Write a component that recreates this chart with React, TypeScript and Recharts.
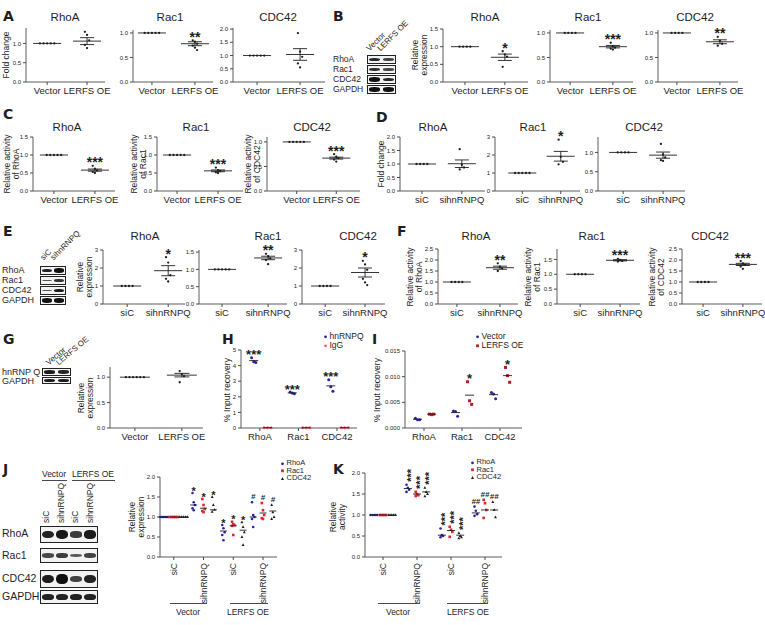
import React from 'react';
import { ScatterChart, Scatter, XAxis, YAxis, ErrorBar } from 'recharts';

const FONT = '"Liberation Sans", Arial, Helvetica, sans-serif';
const INK = '#1e1e1e';
const AX = '#4a4a4a';
const BLUE = '#2424a8';
const RED = '#e3262b';
const DKRED = '#b01d22';
const PINK = '#ea5b5e';

// ---------- categories ----------
const vecCats = ['Vector', 'LERFS OE'];
const siCats = ['siC', 'sihnRNPQ'];
const geneCats = ['RhoA', 'Rac1', 'CDC42'];
const jkCats = ['siC', 'sihnRNPQ', 'siC', 'sihnRNPQ'];

const ctrl4 = [1, 1, 1, 1];
const ctrl5 = [1, 1, 1, 1, 1];

// ---------- A: fold change, LERFS OE ----------
const aRhoAPts = [ctrl5, [1.3, 1.22, 1.08, 0.96, 0.88]];
const aRhoAMean = [1, 1.06];
const aRhoASem = [0, 0.09];
const aRac1Pts = [ctrl5, [0.85, 0.82, 0.78, 0.74, 0.7, 0.65]];
const aRac1Mean = [1, 0.78];
const aRac1Sem = [0, 0.04];
const aRac1Marks = ['', '**'];
const aCdc42Pts = [ctrl5, [1.85, 1.15, 0.95, 0.7, 0.55]];
const aCdc42Mean = [1, 1.04];
const aCdc42Sem = [0, 0.22];

// ---------- B: relative expression, LERFS OE ----------
const bRhoAPts = [ctrl4, [0.87, 0.78, 0.72, 0.43]];
const bRhoAMean = [1, 0.7];
const bRhoASem = [0, 0.09];
const bRhoAMarks = ['', '*'];
const bRac1Pts = [ctrl4, [0.8, 0.73, 0.7, 0.68, 0.66]];
const bRac1Mean = [1, 0.72];
const bRac1Sem = [0, 0.025];
const bRac1Marks = ['', '***'];
const bCdc42Pts = [ctrl4, [0.92, 0.84, 0.78, 0.74]];
const bCdc42Mean = [1, 0.82];
const bCdc42Sem = [0, 0.04];
const bCdc42Marks = ['', '**'];

// ---------- C: relative activity, LERFS OE ----------
const cRhoAPts = [ctrl5, [0.7, 0.62, 0.57, 0.53, 0.5]];
const cRhoAMean = [1, 0.58];
const cRhoASem = [0, 0.03];
const cRac1Pts = [ctrl5, [0.65, 0.58, 0.55, 0.52, 0.5]];
const cRac1Mean = [1, 0.56];
const cRac1Sem = [0, 0.025];
const cCdc42Pts = [ctrl5, [0.75, 0.7, 0.67, 0.64, 0.6]];
const cCdc42Mean = [1, 0.67];
const cCdc42Sem = [0, 0.02];
const cMarks = ['', '***'];

// ---------- D: fold change, sihnRNPQ ----------
const dRhoAPts = [ctrl4, [1.55, 0.97, 0.87, 0.8]];
const dRhoAMean = [1, 1.01];
const dRhoASem = [0, 0.14];
const dRac1Pts = [ctrl5, [2.85, 1.9, 1.62, 1.48]];
const dRac1Mean = [1, 1.93];
const dRac1Sem = [0, 0.27];
const dRac1Marks = ['', '*'];
const dCdc42Pts = [ctrl4, [1.22, 0.95, 0.87, 0.8, 0.78]];
const dCdc42Mean = [1, 0.93];
const dCdc42Sem = [0, 0.08];

// ---------- E: relative expression, sihnRNPQ ----------
const eRhoAPts = [ctrl4, [2.6, 2.3, 1.6, 1.4, 1.25]];
const eRhoAMean = [1, 1.85];
const eRhoASem = [0, 0.28];
const eRhoAMarks = ['', '*'];
const eRac1Pts = [ctrl5, [1.45, 1.38, 1.32, 1.27, 1.15]];
const eRac1Mean = [1, 1.33];
const eRac1Sem = [0, 0.05];
const eRac1Marks = ['', '**'];
const eCdc42Pts = [ctrl4, [2.4, 2.2, 1.9, 1.4, 1.2, 1.05]];
const eCdc42Mean = [1, 1.75];
const eCdc42Sem = [0, 0.25];
const eCdc42Marks = ['', '*'];

// ---------- F: relative activity, sihnRNPQ ----------
const fRhoAPts = [ctrl4, [1.85, 1.7, 1.62, 1.5]];
const fRhoAMean = [1, 1.65];
const fRhoASem = [0, 0.07];
const fRhoAMarks = ['', '**'];
const fRac1Pts = [ctrl4, [1.52, 1.48, 1.45, 1.43]];
const fRac1Mean = [1, 1.47];
const fRac1Sem = [0, 0.02];
const fRac1Marks = ['', '***'];
const fCdc42Pts = [ctrl4, [1.95, 1.85, 1.78, 1.7, 1.6]];
const fCdc42Mean = [1, 1.8];
const fCdc42Sem = [0, 0.05];
const fCdc42Marks = ['', '***'];

// ---------- G: hnRNP Q expression ----------
const gPts = [[1, 1, 1, 1, 1, 1], [1.12, 1.06, 1.02, 0.9]];
const gMean = [1, 1.04];
const gSem = [0, 0.035];

// ---------- H: ChIP hnRNPQ vs IgG ----------
const hHnrnpq = [[4.5, 4.25, 4.2], [2.3, 2.25, 2.2], [3.1, 2.65, 2.35]];
const hHnrnpqMean = [4.32, 2.25, 2.7];
const hIgg = [[0.02, 0.02, 0.02], [0.02, 0.02, 0.02], [0.02, 0.02, 0.02]];
const hIggMean = [0.02, 0.02, 0.02];
const hMarks = ['***', '***', '***'];

// ---------- I: ChIP, Vector vs LERFS OE ----------
const iVector = [[0.0019, 0.0016, 0.0016], [0.0033, 0.0032, 0.0023], [0.0069, 0.0066, 0.0057]];
const iVectorMean = [0.0017, 0.003, 0.0065];
const iLerfs = [[0.0027, 0.0026, 0.0027], [0.009, 0.0053, 0.0046], [0.0118, 0.0102, 0.0089]];
const iLerfsMean = [0.0027, 0.0064, 0.0102];
const iMarks = ['', '*', '*'];

// ---------- J: relative expression ----------
const jRhoA = [ctrl5, [1.6, 1.37, 1.3, 1.22, 1.17], [0.8, 0.72, 0.62, 0.55, 0.42], [1.37, 1.05, 1.0, 0.95, 0.75]];
const jRhoAMean = [1, 1.3, 0.65, 1.0];
const jRac1 = [ctrl5, [1.45, 1.3, 1.2, 1.15, 1.12], [0.88, 0.82, 0.8, 0.78, 0.55], [1.35, 1.17, 1.05, 0.97, 0.95]];
const jRac1Mean = [1, 1.22, 0.78, 1.1];
const jCdc42 = [ctrl5, [1.5, 1.3, 1.18, 1.13], [0.87, 0.75, 0.62, 0.5, 0.3], [1.3, 1.12, 1.0, 0.95]];
const jCdc42Mean = [1, 1.18, 0.67, 1.15];
const jMarks = ['', '*', '*', '#'];

// ---------- K: relative activity ----------
const kRhoA = [ctrl4, [1.72, 1.65, 1.6, 1.55], [0.68, 0.52, 0.5, 0.47], [1.2, 1.1, 1.02, 0.98]];
const kRhoAMean = [1, 1.63, 0.52, 1.05];
const kRac1 = [ctrl4, [1.55, 1.5, 1.47, 1.45], [0.72, 0.65, 0.6, 0.48], [1.36, 1.28, 1.12, 0.93]];
const kRac1Mean = [1, 1.5, 0.63, 1.12];
const kCdc42 = [ctrl4, [1.65, 1.55, 1.5, 1.45], [0.57, 0.5, 0.47, 0.45], [1.31, 1.12, 0.95]];
const kCdc42Mean = [1, 1.55, 0.52, 1.12];
const kMarks = ['', '***', '***', '##'];

// ---------- blots (band intensity per lane) ----------
const blot4Rows = ['RhoA', 'Rac1', 'CDC42', 'GAPDH'];
const bBands = [[0.8, 0.6], [0.75, 0.55], [1, 0.8], [1, 1]];
const eBands = [[0.85, 1], [0.45, 0.7], [0.45, 0.9], [1, 1]];
const gRows = ['hnRNP Q', 'GAPDH'];
const gBands = [[0.9, 0.85], [0.9, 0.9]];
const jBands = [[0.85, 0.95, 0.65, 0.9], [0.55, 0.65, 0.4, 0.6], [0.9, 1, 0.6, 0.85], [0.85, 0.85, 0.85, 0.85]];

// ---------- plot machinery ----------
type Shape = 'circle' | 'square' | 'triangle';
type Series = {
  name?: string;
  color: string;
  shape: Shape;
  pts: number[][];
  means: number[];
  sems?: number[];
  marks?: string[];
  off?: number;
};

type PlotProps = {
  x0: number; x1: number; yTop: number; yBot: number;
  xDom: [number, number]; yDom: [number, number]; yTicks: number[]; dec: number;
  cats: string[]; series: Series[];
  meanW?: number; capW?: number; dot?: number; gap?: number;
  rot?: boolean; markSize?: number; stack?: boolean; yw?: number; catSize?: number;
};

const MT = 26;

const drawMarker = (shape: Shape, color: string, r: number) => (p: any) => {
  const { cx, cy } = p;
  if (cx == null || cy == null) return <g />;
  if (shape === 'square') return <rect x={cx - r} y={cy - r} width={2 * r} height={2 * r} fill={color} />;
  if (shape === 'triangle')
    return <polygon points={`${cx},${cy - r * 1.3} ${cx - r * 1.1},${cy + r * 0.8} ${cx + r * 1.1},${cy + r * 0.8}`} fill={color} />;
  return <circle cx={cx} cy={cy} r={r} fill={color} />;
};

function DotPlot(p: PlotProps) {
  const {
    x0, x1, yTop, yBot, xDom, yDom, yTicks, dec, cats, series,
    meanW = 28, capW = 14, dot = 1.15, gap = 3.6, rot = false, markSize = 14, stack = false, yw = 22, catSize = 9.5,
  } = p;
  const xh = rot ? 50 : 22;
  const pw = x1 - x0;
  const unit = pw / (xDom[1] - xDom[0]);
  const width = yw + pw + 6;
  const height = MT + (yBot - yTop) + xh;

  const pointsOf = (s: Series) => {
    const out: { x: number; y: number }[] = [];
    s.pts.forEach((vals, gi) => {
      const flat = vals.length > 1 && vals.every((v) => v === vals[0]);
      vals.forEach((v, i) => {
        const dx = flat ? (i - (vals.length - 1) / 2) * gap : ((i % 3) - 1) * gap * 0.6;
        out.push({ x: gi + (s.off || 0) + dx / unit, y: v });
      });
    });
    return out;
  };
  const meansOf = (s: Series) => s.means.map((m, gi) => ({ x: gi + (s.off || 0), y: m, e: s.sems ? s.sems[gi] : 0 }));
  const marksOf = (s: Series) =>
    (s.marks || [])
      .map((m, gi) => ({
        x: gi + (s.off || 0),
        y: Math.max(...s.pts[gi], s.means[gi] + (s.sems ? s.sems[gi] : 0)),
        m,
      }))
      .filter((d) => d.m);

  const meanLine = (q: any) =>
    q.cx == null ? <g /> : <line x1={q.cx - meanW / 2} x2={q.cx + meanW / 2} y1={q.cy} y2={q.cy} stroke={INK} strokeWidth={0.9} />;

  const markShape = (q: any) => {
    const { cx, cy, payload } = q;
    if (cx == null) return <g />;
    const m: string = payload.m;
    const isStar = /^\*+$/.test(m);
    if (stack && isStar) {
      // stars written as a vertical column, as in the original
      const by = cy - 3;
      return (
        <text
          x={cx}
          y={by}
          dy="0.3em"
          transform={`rotate(-90 ${cx} ${by})`}
          textAnchor="start"
          dominantBaseline="central"
          fontSize={markSize}
          fontWeight="bold"
          fill={INK}
          fontFamily={FONT}
        >
          {m}
        </text>
      );
    }
    return (
      <text
        x={cx}
        y={isStar ? cy + 1.5 : cy - 3}
        textAnchor="middle"
        fontSize={isStar ? markSize : markSize * 0.72}
        fontWeight="bold"
        fontStyle={isStar ? 'normal' : 'italic'}
        fill={INK}
        fontFamily={FONT}
      >
        {m}
      </text>
    );
  };

  const rotTick = (t: any) => (
    <text
      x={t.x}
      y={t.y + 1}
      transform={`rotate(-90 ${t.x} ${t.y + 1})`}
      textAnchor="end"
      dominantBaseline="central"
      fontSize={8.5}
      fill={INK}
      fontFamily={FONT}
    >
      {cats[t.payload.value]}
    </text>
  );

  return (
    <div style={{ position: 'absolute', left: x0 - yw, top: yTop - MT }}>
      <ScatterChart width={width} height={height} margin={{ top: MT, right: 6, bottom: 0, left: 0 }}>
        <XAxis
          type="number"
          dataKey="x"
          domain={xDom}
          ticks={cats.map((_, i) => i)}
          interval={0}
          height={xh}
          tickSize={3}
          stroke={AX}
          tickLine={{ stroke: AX }}
          axisLine={{ stroke: AX, strokeWidth: 0.9 }}
          tick={rot ? rotTick : { fontSize: catSize, fill: INK, fontFamily: FONT }}
          tickFormatter={(v: number) => cats[v] ?? ''}
        />
        <YAxis
          type="number"
          dataKey="y"
          domain={yDom}
          ticks={yTicks}
          interval={0}
          width={yw}
          tickSize={3}
          stroke={AX}
          tickLine={{ stroke: AX }}
          axisLine={{ stroke: AX, strokeWidth: 0.9 }}
          tick={{ fontSize: 6, fill: INK, fontFamily: FONT }}
          tickFormatter={(v: number) => v.toFixed(dec)}
        />
        {series.map((s, si) => [
          <Scatter key={'p' + si} data={pointsOf(s)} shape={drawMarker(s.shape, s.color, dot)} isAnimationActive={false} />,
          <Scatter key={'m' + si} data={meansOf(s)} shape={meanLine} isAnimationActive={false}>
            {s.sems ? <ErrorBar dataKey="e" direction="y" width={capW / 2} stroke={INK} strokeWidth={0.9} /> : null}
          </Scatter>,
          <Scatter key={'k' + si} data={marksOf(s)} shape={markShape} isAnimationActive={false} />,
        ])}
      </ScatterChart>
    </div>
  );
}

const one = (pts: number[][], means: number[], sems: number[], marks?: string[]): Series[] => [
  { color: INK, shape: 'circle', pts, means, sems, marks, off: 0 },
];

// ---------- text helpers ----------
const Txt = ({ x, y, s, children, rot = 0, bold = false }: { x: number; y: number; s: number; children: React.ReactNode; rot?: number; bold?: boolean }) => (
  <div
    style={{
      position: 'absolute',
      left: x,
      top: y,
      transform: `translate(-50%, -50%) rotate(${rot}deg)`,
      whiteSpace: 'pre',
      fontSize: s,
      lineHeight: 1.02,
      textAlign: 'center',
      fontWeight: bold ? 700 : 400,
    }}
  >
    {children}
  </div>
);

const Letter = ({ x, y, c }: { x: number; y: number; c: string }) => (
  <div style={{ position: 'absolute', left: x, top: y, fontSize: 14, fontWeight: 900, fontFamily: '"DejaVu Sans", sans-serif', lineHeight: 1 }}>{c}</div>
);

const Slant = ({ x, y, s, children, ang = -45 }: { x: number; y: number; s: number; children: React.ReactNode; ang?: number }) => (
  <div
    style={{
      position: 'absolute',
      left: x,
      top: y - s,
      fontSize: s,
      lineHeight: 1,
      whiteSpace: 'nowrap',
      transform: `rotate(${ang}deg)`,
      transformOrigin: '0 100%',
    }}
  >
    {children}
  </div>
);

function Blot({ x, w, tops, hs, bands }: { x: number; w: number; tops: number[]; hs: number[]; bands: number[][] }) {
  return (
    <>
      {bands.map((row, ri) => {
        const lane = (w - 2) / row.length;
        return (
          <div
            key={ri}
            style={{ position: 'absolute', left: x, top: tops[ri], width: w - 2, height: hs[ri] - 2, border: '1px solid #222', background: '#f2f2f2', overflow: 'hidden' }}
          >
            {row.map((v, li) => {
              const bh = Math.max(1.5, (hs[ri] - 2) * 0.62 * v);
              return (
                <div
                  key={li}
                  style={{
                    position: 'absolute',
                    left: li * lane + lane * 0.1,
                    top: (hs[ri] - 2 - bh) / 2,
                    width: lane * 0.8,
                    height: bh,
                    background: '#111',
                    opacity: 0.45 + 0.55 * v,
                    borderRadius: '45%',
                    filter: 'blur(0.4px)',
                  }}
                />
              );
            })}
          </div>
        );
      })}
    </>
  );
}

function Legend({ x, y, step, s, items }: { x: number; y: number; step: number; s: number; items: { name: string; color: string; shape: Shape }[] }) {
  return (
    <>
      {items.map((it, i) => (
        <div
          key={i}
          style={{ position: 'absolute', left: x, top: y + i * step - s * 0.5, fontSize: s, lineHeight: 1, height: s, whiteSpace: 'nowrap', display: 'flex', alignItems: 'center' }}
        >
          <svg width={5} height={5} style={{ marginRight: 1.5 }}>
            {drawMarker(it.shape, it.color, 1.4)({ cx: 2.5, cy: 2.8 })}
          </svg>
          {it.name}
        </div>
      ))}
    </>
  );
}

const HLine = ({ x1, x2, y }: { x1: number; x2: number; y: number }) => (
  <div style={{ position: 'absolute', left: x1, top: y, width: x2 - x1, height: 0, borderTop: `1px solid ${AX}` }} />
);

// ---------- series for multi-series panels ----------
const hSeries: Series[] = [
  { name: 'hnRNPQ', color: BLUE, shape: 'circle', pts: hHnrnpq, means: hHnrnpqMean, marks: hMarks, off: -0.16 },
  { name: 'IgG', color: PINK, shape: 'circle', pts: hIgg, means: hIggMean, off: 0.2 },
];
const iSeries: Series[] = [
  { name: 'Vector', color: BLUE, shape: 'circle', pts: iVector, means: iVectorMean, off: -0.17 },
  { name: 'LERFS OE', color: DKRED, shape: 'square', pts: iLerfs, means: iLerfsMean, marks: iMarks, off: 0.2 },
];
const jSeries: Series[] = [
  { name: 'RhoA', color: BLUE, shape: 'circle', pts: jRhoA, means: jRhoAMean, marks: jMarks, off: -0.33 },
  { name: 'Rac1', color: RED, shape: 'square', pts: jRac1, means: jRac1Mean, marks: jMarks, off: 0 },
  { name: 'CDC42', color: INK, shape: 'triangle', pts: jCdc42, means: jCdc42Mean, marks: jMarks, off: 0.33 },
];
const kSeries: Series[] = [
  { name: 'RhoA', color: BLUE, shape: 'circle', pts: kRhoA, means: kRhoAMean, marks: kMarks, off: -0.27 },
  { name: 'Rac1', color: RED, shape: 'square', pts: kRac1, means: kRac1Mean, marks: kMarks, off: 0 },
  { name: 'CDC42', color: INK, shape: 'triangle', pts: kCdc42, means: kCdc42Mean, marks: kMarks, off: 0.27 },
];

const t05 = [0, 0.5, 1];
const t15 = [0, 0.5, 1, 1.5];
const t20 = [0, 0.5, 1, 1.5, 2];
const t25 = [0, 0.5, 1, 1.5, 2, 2.5];
const t3 = [0, 1, 2, 3];

export default function App() {
  return (
    <div style={{ position: 'absolute', left: 0, top: 0, width: 765, height: 625, background: '#fff', fontFamily: FONT, color: INK, overflow: 'hidden' }}>
      {/* ---------------- row 1: A, B ---------------- */}
      <Letter x={3} y={9} c="A" />
      <Txt x={6} y={55} s={8.5} rot={-90}>Fold change</Txt>
      <Txt x={65} y={18} s={11.5}>RhoA</Txt>
      <Txt x={170} y={18} s={11.5}>Rac1</Txt>
      <Txt x={278} y={18} s={11.5}>CDC42</Txt>
      <DotPlot x0={26} x1={105} yTop={28} yBot={82} xDom={[-0.53, 1.45]} yDom={[0, 1.4]} yTicks={t05} dec={1} cats={vecCats} series={one(aRhoAPts, aRhoAMean, aRhoASem)} />
      <DotPlot x0={133} x1={213} yTop={30} yBot={82} xDom={[-0.44, 1.42]} yDom={[0, 1.06]} yTicks={t05} dec={1} cats={vecCats} series={one(aRac1Pts, aRac1Mean, aRac1Sem, aRac1Marks)} />
      <DotPlot x0={233} x1={325} yTop={28} yBot={82} xDom={[-0.56, 1.58]} yDom={[0, 2.04]} yTicks={t20} dec={1} cats={vecCats} series={one(aCdc42Pts, aCdc42Mean, aCdc42Sem)} />

      <Letter x={333} y={9} c="B" />
      {blot4Rows.map((r, i) => (
        <div key={r} style={{ position: 'absolute', left: 333, top: 54 + i * 10, fontSize: 8.5, lineHeight: '10px' }}>{r}</div>
      ))}
      <Blot x={367} w={29} tops={[55, 65, 75, 85]} hs={[9, 9, 9, 9]} bands={bBands} />
      <Slant x={371} y={53} s={8}>Vector</Slant>
      <Slant x={382} y={53} s={8}>LERFS OE</Slant>
      <Txt x={420} y={55} s={8.5} rot={-90}>{'Relative\nexpression'}</Txt>
      <Txt x={485} y={18} s={11.5}>RhoA</Txt>
      <Txt x={588} y={18} s={11.5}>Rac1</Txt>
      <Txt x={695} y={18} s={11.5}>CDC42</Txt>
      <DotPlot x0={443} x1={528} yTop={29} yBot={82} xDom={[-0.55, 1.58]} yDom={[0, 1.5]} yTicks={t15} dec={1} cats={vecCats} series={one(bRhoAPts, bRhoAMean, bRhoASem, bRhoAMarks)} />
      <DotPlot x0={550} x1={633} yTop={30} yBot={82} xDom={[-0.47, 1.47]} yDom={[0, 1.06]} yTicks={t05} dec={1} cats={vecCats} series={one(bRac1Pts, bRac1Mean, bRac1Sem, bRac1Marks)} />
      <DotPlot x0={658} x1={738} yTop={30} yBot={82} xDom={[-0.44, 1.42]} yDom={[0, 1.06]} yTicks={t05} dec={1} cats={vecCats} series={one(bCdc42Pts, bCdc42Mean, bCdc42Sem, bCdc42Marks)} />

      {/* ---------------- row 2: C, D ---------------- */}
      <Letter x={3} y={107} c="C" />
      <Txt x={67} y={128} s={11.5}>RhoA</Txt>
      <Txt x={196} y={128} s={11.5}>Rac1</Txt>
      <Txt x={312} y={128} s={11.5}>CDC42</Txt>
      <Txt x={12} y={164} s={8.5} rot={-90}>{'Relative activity\nof RhoA'}</Txt>
      <Txt x={139} y={164} s={8.5} rot={-90}>{'Relative activity\nof Rac1'}</Txt>
      <Txt x={253} y={164} s={8.5} rot={-90}>{'Relative activity\nof CDC42'}</Txt>
      <DotPlot x0={33} x1={115} yTop={137} yBot={191} xDom={[-0.51, 1.49]} yDom={[0, 1.5]} yTicks={t15} dec={1} cats={vecCats} series={one(cRhoAPts, cRhoAMean, cRhoASem, cMarks)} />
      <DotPlot x0={157} x1={243} yTop={137} yBot={191} xDom={[-0.49, 1.61]} yDom={[0, 1.5]} yTicks={t15} dec={1} cats={vecCats} series={one(cRac1Pts, cRac1Mean, cRac1Sem, cMarks)} />
      <DotPlot x0={267} x1={360} yTop={137} yBot={191} xDom={[-0.75, 1.6]} yDom={[0, 1.1]} yTicks={t05} dec={1} cats={vecCats} series={one(cCdc42Pts, cCdc42Mean, cCdc42Sem, cMarks)} />

      <Letter x={376} y={110} c="D" />
      <Txt x={381} y={164} s={8.5} rot={-90}>Fold change</Txt>
      <Txt x={433} y={128} s={11.5}>RhoA</Txt>
      <Txt x={533} y={128} s={11.5}>Rac1</Txt>
      <Txt x={644} y={128} s={11.5}>CDC42</Txt>
      <DotPlot x0={400} x1={485} yTop={137} yBot={191} xDom={[-0.55, 1.58]} yDom={[0, 2]} yTicks={t20} dec={1} cats={siCats} series={one(dRhoAPts, dRhoAMean, dRhoASem)} />
      <DotPlot x0={495} x1={580} yTop={137} yBot={191} xDom={[-0.71, 1.5]} yDom={[0, 3]} yTicks={t3} dec={0} cats={siCats} series={one(dRac1Pts, dRac1Mean, dRac1Sem, dRac1Marks)} />
      <DotPlot x0={598} x1={685} yTop={137} yBot={191} xDom={[-0.63, 1.55]} yDom={[0, 1.4]} yTicks={t05} dec={1} cats={siCats} series={one(dCdc42Pts, dCdc42Mean, dCdc42Sem)} />

      {/* ---------------- row 3: E, F ---------------- */}
      <Letter x={3} y={224} c="E" />
      <Slant x={45} y={262} s={8}>siC</Slant>
      <Slant x={55} y={262} s={8}>sihnRNPQ</Slant>
      {blot4Rows.map((r, i) => (
        <div key={r} style={{ position: 'absolute', left: 2, top: 265 + i * 10, fontSize: 9, lineHeight: '10px' }}>{r}</div>
      ))}
      <Blot x={40} w={26} tops={[266, 276, 286, 296]} hs={[9, 9, 9, 9]} bands={eBands} />
      <Txt x={85} y={277} s={8.5} rot={-90}>{'Relative\nexpression'}</Txt>
      <Txt x={145} y={237} s={11.5}>RhoA</Txt>
      <Txt x={268} y={237} s={11.5}>Rac1</Txt>
      <Txt x={358} y={237} s={11.5}>CDC42</Txt>
      <DotPlot x0={103} x1={185} yTop={250} yBot={304} xDom={[-0.59, 1.41]} yDom={[0, 3]} yTicks={t3} dec={0} cats={siCats} series={one(eRhoAPts, eRhoAMean, eRhoASem, eRhoAMarks)} />
      <DotPlot x0={199} x1={287} yTop={250} yBot={304} xDom={[-0.5, 1.41]} yDom={[0, 1.56]} yTicks={t15} dec={1} cats={siCats} series={one(eRac1Pts, eRac1Mean, eRac1Sem, eRac1Marks)} />
      <DotPlot x0={302} x1={385} yTop={250} yBot={304} xDom={[-0.58, 1.5]} yDom={[0, 3]} yTicks={t3} dec={0} cats={siCats} series={one(eCdc42Pts, eCdc42Mean, eCdc42Sem, eCdc42Marks)} />

      <Letter x={397} y={224} c="F" />
      <Txt x={476} y={237} s={11.5}>RhoA</Txt>
      <Txt x={592} y={237} s={11.5}>Rac1</Txt>
      <Txt x={710} y={237} s={11.5}>CDC42</Txt>
      <Txt x={415} y={277} s={8.5} rot={-90}>{'Relative activity\nof RhoA'}</Txt>
      <Txt x={533} y={277} s={8.5} rot={-90}>{'Relative activity\nof Rac1'}</Txt>
      <Txt x={657} y={277} s={8.5} rot={-90}>{'Relative activity\nof CDC42'}</Txt>
      <DotPlot x0={438} x1={518} yTop={249} yBot={304} xDom={[-0.44, 1.42]} yDom={[0, 2.5]} yTicks={t25} dec={1} cats={siCats} series={one(fRhoAPts, fRhoAMean, fRhoASem, fRhoAMarks)} />
      <DotPlot x0={557} x1={640} yTop={249} yBot={304} xDom={[-0.58, 1.5]} yDom={[0, 1.85]} yTicks={t15} dec={1} cats={siCats} series={one(fRac1Pts, fRac1Mean, fRac1Sem, fRac1Marks)} />
      <DotPlot x0={682} x1={762} yTop={249} yBot={304} xDom={[-0.53, 1.48]} yDom={[0, 2.5]} yTicks={t25} dec={1} cats={siCats} series={one(fCdc42Pts, fCdc42Mean, fCdc42Sem, fCdc42Marks)} />

      {/* ---------------- row 4: G, H, I ---------------- */}
      <Letter x={3} y={332} c="G" />
      <Slant x={50} y={367} s={8} ang={-40}>Vector</Slant>
      <Slant x={60} y={367} s={8} ang={-40}>LERFS OE</Slant>
      {gRows.map((r, i) => (
        <div key={r} style={{ position: 'absolute', left: 2, top: 367 + i * 9, fontSize: 9, lineHeight: '10px' }}>{r}</div>
      ))}
      <Blot x={42} w={29} tops={[368, 377]} hs={[8, 7]} bands={gBands} />
      <Txt x={86} y={398} s={8.5} rot={-90}>{'Relative\nexpression'}</Txt>
      <DotPlot x0={110} x1={203} yTop={367} yBot={428} xDom={[-0.53, 1.45]} yDom={[0, 1.2]} yTicks={t05} dec={1} cats={vecCats} meanW={30} capW={15} series={one(gPts, gMean, gSem)} />

      <Letter x={222} y={332} c="H" />
      <Legend x={323} y={336} step={9} s={8.5} items={hSeries.map((s) => ({ name: s.name || '', color: s.color, shape: s.shape }))} />
      <Txt x={227} y={390} s={8.5} rot={-90}>% Input recovery</Txt>
      <DotPlot x0={241} x1={357} yTop={350} yBot={428} xDom={[-0.49, 2.52]} yDom={[0, 5]} yTicks={[0, 1, 2, 3, 4, 5]} dec={0} cats={geneCats} meanW={9} dot={1.5} gap={3.5} markSize={13} series={hSeries} />

      <Letter x={372} y={332} c="I" />
      <Legend x={475} y={336} step={9} s={8.5} items={iSeries.map((s) => ({ name: s.name || '', color: s.color, shape: s.shape }))} />
      <Txt x={377} y={390} s={8.5} rot={-90}>% Input recovery</Txt>
      <DotPlot x0={405} x1={522} yTop={351} yBot={428} xDom={[-0.5, 2.58]} yDom={[0, 0.015]} yTicks={[0, 0.005, 0.01, 0.015]} dec={3} cats={geneCats} meanW={9} dot={1.5} gap={3.5} markSize={13} yw={26} series={iSeries} />

      {/* ---------------- row 5: J, K ---------------- */}
      <Letter x={3} y={462} c="J" />
      <Txt x={54} y={474} s={8.5}>Vector</Txt>
      <Txt x={93} y={474} s={8.5}>LERFS OE</Txt>
      <HLine x1={42} x2={67} y={480} />
      <HLine x1={72} x2={115} y={480} />
      {jkCats.map((c, i) => (
        <div key={i} style={{ position: 'absolute', left: 41 + i * 14.5, top: 523, fontSize: 8.5, lineHeight: '10px', whiteSpace: 'nowrap', transform: 'rotate(-90deg)', transformOrigin: '0 0' }}>{c}</div>
      ))}
      {blot4Rows.map((r, i) => (
        <div key={r} style={{ position: 'absolute', left: 2, top: [527, 549, 572, 590][i], fontSize: 10.5, lineHeight: '12px' }}>{r}</div>
      ))}
      <Blot x={40} w={58} tops={[526, 548, 570, 590]} hs={[17, 15, 18, 14]} bands={jBands} />
      <Txt x={137} y={517} s={8.5} rot={-90}>{'Relative\nexpression'}</Txt>
      <Legend x={280} y={463} step={7.5} s={7.5} items={jSeries.map((s) => ({ name: s.name || '', color: s.color, shape: s.shape }))} />
      <DotPlot x0={160} x1={277} yTop={477} yBot={557} xDom={[-0.43, 3.47]} yDom={[0, 2]} yTicks={t20} dec={1} cats={jkCats} meanW={7} dot={1.3} gap={2} markSize={11} rot series={jSeries} />
      <HLine x1={170} x2={207} y={603} />
      <HLine x1={230} x2={268} y={603} />
      <Txt x={188} y={612} s={8.5}>Vector</Txt>
      <Txt x={248} y={612} s={8.5}>LERFS OE</Txt>

      <Letter x={333} y={462} c="K" />
      <Txt x={338} y={517} s={8.5} rot={-90}>{'Relative\nactivity'}</Txt>
      <Legend x={470} y={462} step={7.5} s={7.5} items={kSeries.map((s) => ({ name: s.name || '', color: s.color, shape: s.shape }))} />
      <DotPlot x0={365} x1={502} yTop={473} yBot={557} xDom={[-0.53, 3.5]} yDom={[0, 2]} yTicks={t20} dec={1} cats={jkCats} meanW={8} dot={1.3} gap={2.2} markSize={11} stack rot series={kSeries} />
      <HLine x1={378} x2={420} y={603} />
      <HLine x1={447} x2={488} y={603} />
      <Txt x={398} y={612} s={8.5}>Vector</Txt>
      <Txt x={468} y={612} s={8.5}>LERFS OE</Txt>
    </div>
  );
}
